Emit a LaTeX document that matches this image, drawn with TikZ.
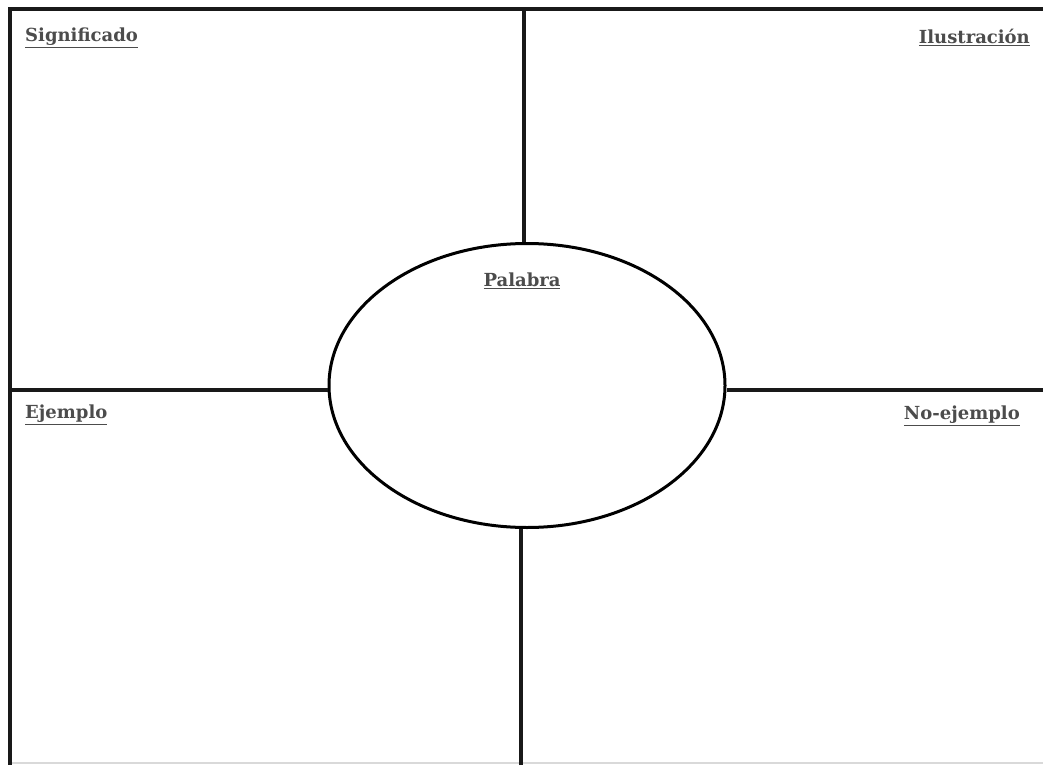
\documentclass[tikz,border=0pt]{standalone}
\usepackage{fontspec}
\setmainfont{DejaVu Serif}
\usetikzlibrary{shapes.geometric}
\begin{document}
\begin{tikzpicture}[x=1pt,y=-1pt,
  frameline/.style={line width=4pt,black!90},
  lbl/.style={font=\bfseries\fontsize{18}{21}\selectfont,text=black!70,inner sep=0pt}]
\useasboundingbox (0,0) rectangle (1043,765);
\fill[white] (0,0) rectangle (1043,765);
% frame
\coordinate (tl) at (10,9);
\coordinate (tr) at (1043,9);
\coordinate (bl) at (10,765);
\coordinate (br) at (1043,763);
\draw[black!15,line width=1.5pt] (10,763) -- (br);
\draw[frameline] (tr) -- (tl) -- (bl);
% ellipse
\node[ellipse,draw,line width=3pt,minimum width=396pt,minimum height=284pt,inner sep=0pt] (pal) at (527,385.5) {};
% connectors
\coordinate (ttop) at (524,9);
\coordinate (tbot) at (521,765);
\coordinate (lleft) at (10,390);
\coordinate (rright) at (1043,390);
\draw[frameline] (ttop) -- (ttop |- pal.north);
\draw[frameline] (tbot) -- (tbot |- pal.south);
\draw[frameline] (lleft) -- (lleft -| pal.west);
\draw[frameline] (rright) -- (rright -| pal.east);
% labels
\node[lbl,anchor=west] (sig) at (25,38) {\underline{Significado}};
\node[lbl,anchor=east] (ilu) at (1030,37) {\underline{Ilustración}};
\node[lbl] (palt) at (522,281) {\underline{Palabra}};
\node[lbl,anchor=west] (eje) at (25,415) {\underline{Ejemplo}};
\node[lbl,anchor=east] (noe) at (1020,416) {\underline{No-ejemplo}};
\end{tikzpicture}
\end{document}
